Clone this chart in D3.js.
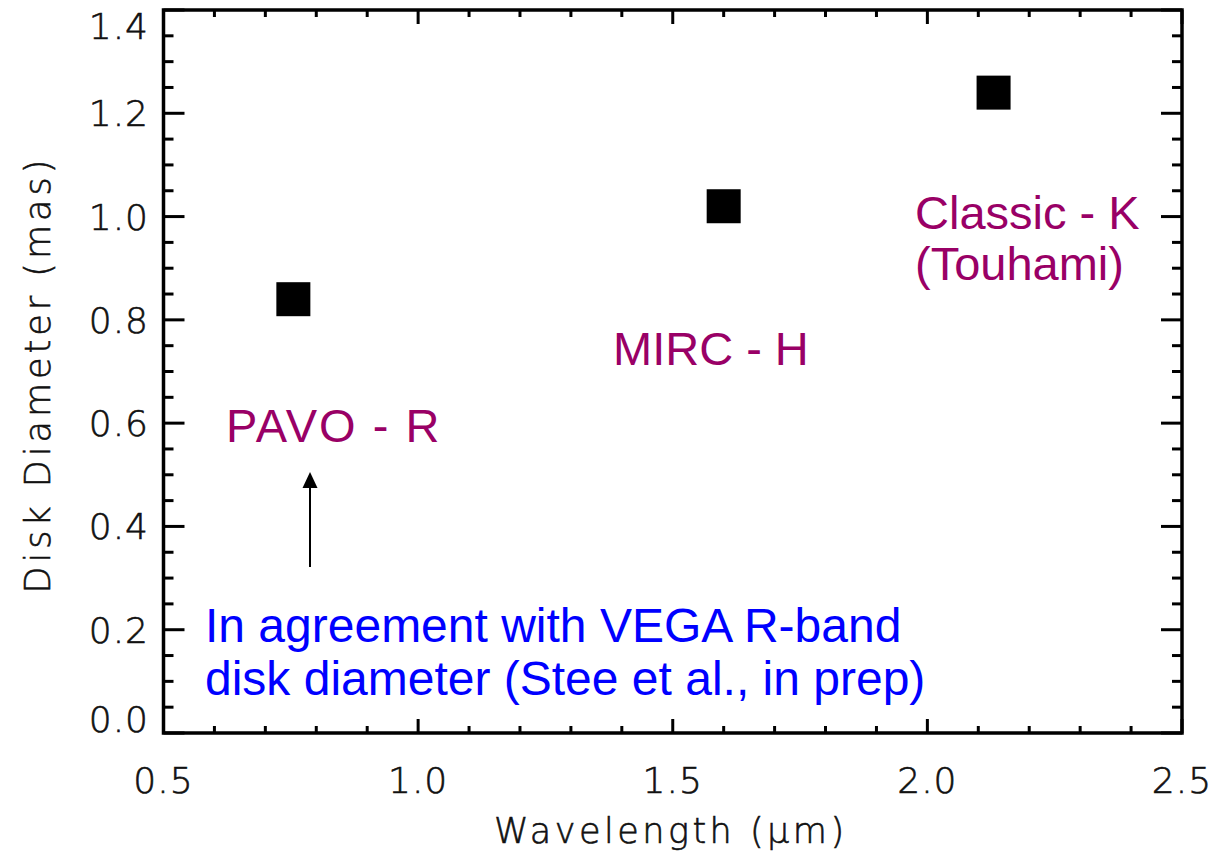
<!DOCTYPE html>
<html><head><meta charset="utf-8">
<script src="https://cdn.jsdelivr.net/npm/d3@7"></script>
<style>
body{margin:0;background:#fff;}
svg{display:block;}
.tick-label{font-family:"DejaVu Sans",sans-serif;font-weight:200;fill:#111;stroke:#111;stroke-width:0.6px;}
.annot{font-family:"Liberation Sans",Arial,sans-serif;}
</style></head>
<body>
<svg id="chart" width="1221" height="864"></svg>
<script>
const instruments = ["PAVO - R", "MIRC - H", "Classic - K"];
const wavelengths = [0.755, 1.60, 2.13];
const diameters = [0.84, 1.02, 1.24];
const xTicks = [0.5, 1.0, 1.5, 2.0, 2.5];
const yTicks = [0.0, 0.2, 0.4, 0.6, 0.8, 1.0, 1.2, 1.4];
const xLabel = "Wavelength (\u03BCm)";
const yLabel = "Disk Diameter (mas)";
const blueNote = ["In agreement with VEGA R-band", "disk diameter (Stee et al., in prep)"];

const svg = d3.select("#chart");
const L = 163.5, R = 1182, T = 10, B = 733;
const x = d3.scaleLinear().domain([0.5, 2.5]).range([L, R]);
const y = d3.scaleLinear().domain([0, 1.4]).range([B, T]);

const purple = "#990066";
const g = svg.append("g");

// Minor ticks
const xMinor = d3.range(5, 26).map(v => v / 10).filter(v => !xTicks.some(t => Math.abs(t - v) < 1e-9));
const yMinor = d3.range(0, 29).map(v => v * 0.05).filter(v => !yTicks.some(t => Math.abs(t - v) < 1e-9));
const tk = g.append("g").attr("stroke", "#000").attr("stroke-width", 3);
const xMajLen = 14, xMinLen = 7, yMajLen = 21, yMinLen = 10;
xTicks.concat(xMinor).forEach(v => {
  const len = xTicks.includes(v) ? xMajLen : xMinLen;
  tk.append("line").attr("x1", x(v)).attr("x2", x(v)).attr("y1", B).attr("y2", B - len);
  tk.append("line").attr("x1", x(v)).attr("x2", x(v)).attr("y1", T).attr("y2", T + len);
});
yTicks.concat(yMinor).forEach(v => {
  const len = yTicks.some(t => Math.abs(t - v) < 1e-9) ? yMajLen : yMinLen;
  tk.append("line").attr("y1", y(v)).attr("y2", y(v)).attr("x1", L).attr("x2", L + len);
  tk.append("line").attr("y1", y(v)).attr("y2", y(v)).attr("x1", R).attr("x2", R - len);
});

// Frame
g.append("rect").attr("x", L).attr("y", T).attr("width", R - L).attr("height", B - T)
  .attr("fill", "none").attr("stroke", "#000").attr("stroke-width", 3.5);

// Tick labels
g.selectAll(".xl").data(xTicks).enter().append("text")
  .attr("class", "tick-label").attr("x", d => x(d)).attr("y", 793)
  .attr("text-anchor", "middle").attr("font-size", 36).style("letter-spacing", "1px")
  .text(d => d.toFixed(1));
g.selectAll(".yl").data(yTicks).enter().append("text")
  .attr("class", "tick-label").attr("x", 149)
  .attr("y", (d, i) => {
    let yy = y(d);
    if (i === 0) yy -= 14;
    if (i === yTicks.length - 1) yy += 16;
    return yy + 13;
  })
  .attr("text-anchor", "end").attr("font-size", 36).style("letter-spacing", "1px")
  .text(d => d.toFixed(1));

// Axis titles
g.append("text").attr("class", "tick-label").attr("x", (L + R) / 2 - 2).attr("y", 843)
  .attr("text-anchor", "middle").attr("font-size", 35).style("letter-spacing", "3.5px").text(xLabel);
g.append("text").attr("class", "tick-label")
  .attr("transform", `translate(50,${(T + B) / 2 + 3}) rotate(-90)`)
  .attr("text-anchor", "middle").attr("font-size", 35).style("letter-spacing", "4px").text(yLabel);

// Points
const sz = 34;
g.selectAll(".pt").data(wavelengths).enter().append("rect")
  .attr("x", d => x(d) - sz / 2).attr("y", (d, i) => y(diameters[i]) - sz / 2)
  .attr("width", sz).attr("height", sz).attr("fill", "#000");

// Annotations
const fs = 47;
const ann = g.append("g").attr("class", "annot").attr("fill", purple).attr("font-size", fs);
ann.append("text").attr("x", 226).attr("y", 442).style("letter-spacing", "2px").text(instruments[0]);
ann.append("text").attr("x", 613).attr("y", 365).text(instruments[1]);
ann.append("text").attr("x", 915).attr("y", 229).text(instruments[2]);
ann.append("text").attr("x", 915).attr("y", 280).text("(Touhami)");

const blue = g.append("g").attr("class", "annot").attr("fill", "#0000ff").attr("font-size", 48);
blue.append("text").attr("x", 205).attr("y", 642).text(blueNote[0]);
blue.append("text").attr("x", 205).attr("y", 695).text(blueNote[1]);

// Arrow
g.append("line").attr("x1", 310).attr("x2", 310).attr("y1", 567).attr("y2", 484)
  .attr("stroke", "#000").attr("stroke-width", 2);
g.append("path").attr("d", "M310,472 L302.5,488 L317.5,488 Z").attr("fill", "#000");
</script>
</body></html>
